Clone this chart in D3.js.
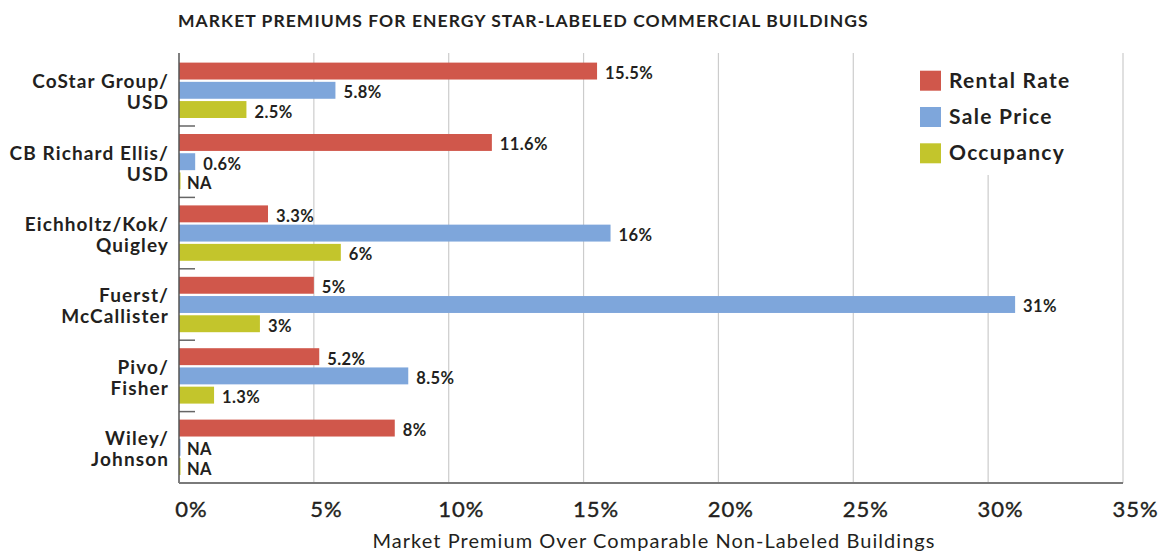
<!DOCTYPE html>
<html><head><meta charset="utf-8">
<script src="https://cdn.jsdelivr.net/npm/d3@7"></script>
<style>
body{margin:0;background:#fff}
svg text{font-family:Lato,"Open Sans",sans-serif;fill:#231f20}
</style>
</head><body>
<svg id="chart" width="1162" height="552"></svg>
<script>
const categories = ["CoStar Group/\nUSD","CB Richard Ellis/\nUSD","Eichholtz/Kok/\nQuigley","Fuerst/\nMcCallister","Pivo/\nFisher","Wiley/\nJohnson"];
const series = ["Rental Rate","Sale Price","Occupancy"];
const rentalRate = [15.5, 11.6, 3.3, 5, 5.2, 8];
const salePrice  = [5.8, 0.6, 16, 31, 8.5, null];
const occupancy  = [2.5, null, 6, 3, 1.3, null];
const xTicks = [0, 5, 10, 15, 20, 25, 30, 35];
const colors = ["#d0574b", "#7ea6db", "#c3c52c"];
const title = "MARKET PREMIUMS FOR ENERGY STAR-LABELED COMMERCIAL BUILDINGS";
const xTitle = "Market Premium Over Comparable Non-Labeled Buildings";

const values = [rentalRate, salePrice, occupancy];
const svg = d3.select("#chart");
const mLeft = 179, mRight = 1123, mTop = 54.6, mBottom = 483;

const x = d3.scaleLinear().domain([0, 35]).range([mLeft, mRight]);
const y0 = d3.scaleBand().domain(categories).range([mTop, mBottom]);
const y1 = d3.scaleBand().domain(series).range([8, y0.bandwidth() - 8]).paddingInner(0.12);
const color = d3.scaleOrdinal().domain(series).range(colors);

// title
svg.append("text").attr("x", 178).attr("y", 26.5)
  .style("font-size", "17.5px").style("font-weight", 700).style("letter-spacing", "1.05px")
  .text(title);

// gridlines
svg.append("g").selectAll("line").data(xTicks.filter(d => d > 0)).join("line")
  .attr("x1", d => x(d)).attr("x2", d => x(d))
  .attr("y1", 53).attr("y2", mBottom)
  .attr("stroke", "#cccccc").attr("stroke-width", 1.2);

// legend backdrop
svg.append("rect").attr("x", 870).attr("y", 50).attr("width", 240).attr("height", 125).attr("fill", "#fff");

// bars
const groups = svg.append("g").selectAll("g").data(categories).join("g")
  .attr("transform", c => `translate(0,${y0(c)})`);

groups.each(function(c, ci) {
  const g = d3.select(this);
  series.forEach((s, si) => {
    const v = values[si][ci];
    g.append("rect")
      .attr("x", x(0))
      .attr("y", y1(s))
      .attr("width", v == null ? 1.5 : x(v) - x(0))
      .attr("height", y1.bandwidth())
      .attr("fill", color(s));
    g.append("text")
      .attr("x", x(v == null ? 0 : v) + 8)
      .attr("y", y1(s) + y1.bandwidth() / 2 + 2)
      .attr("dominant-baseline", "central")
      .style("font-size", "16.5px").style("font-weight", 700).style("letter-spacing", "0.4px")
      .text(v == null ? "NA" : v + "%");
  });
  const lines = c.split("\n");
  const t = g.append("text").attr("text-anchor", "end")
    .style("font-size", "19px").style("font-weight", 700).style("letter-spacing", "1.1px");
  lines.forEach((l, li) => {
    t.append("tspan").attr("x", 169)
      .attr("y", y0.bandwidth() / 2 + (li === 0 ? -9.5 : 11.5))
      .attr("dominant-baseline", "central")
      .text(l);
  });
});

// group separator ticks
svg.append("g").selectAll("line").data(categories.slice(0, -1)).join("line")
  .attr("x1", mLeft).attr("x2", mLeft + 16)
  .attr("y1", c => y0(c) + y0.bandwidth()).attr("y2", c => y0(c) + y0.bandwidth())
  .attr("stroke", "#666").attr("stroke-width", 1.5);

// axes lines
svg.append("line").attr("x1", mLeft).attr("x2", mLeft).attr("y1", 53).attr("y2", mBottom)
  .attr("stroke", "#555").attr("stroke-width", 1.5);
svg.append("line").attr("x1", mLeft).attr("x2", mRight).attr("y1", mBottom).attr("y2", mBottom)
  .attr("stroke", "#7a7a7a").attr("stroke-width", 2);

// x axis labels
const ax = svg.append("g").attr("transform", `translate(0,${mBottom})`)
  .call(d3.axisBottom(x).tickValues(xTicks).tickFormat(d => d + "%").tickSize(0).tickPadding(18));
ax.select(".domain").remove();
ax.selectAll("text").attr("dx", 12)
  .style("font-size", "22px").style("font-weight", 400).style("letter-spacing", "1px")
  .style("font-family", "Lato, sans-serif").attr("fill", "#231f20")
  .attr("stroke", "#231f20").attr("stroke-width", 0.4);

svg.append("text").attr("x", (mLeft + mRight) / 2 + 3).attr("y", 548)
  .attr("text-anchor", "middle").style("font-size", "20px").style("font-weight", 400).style("letter-spacing", "1.05px")
  .text(xTitle);

// legend
const lg = svg.append("g").selectAll("g").data(series).join("g")
  .attr("transform", (s, i) => `translate(920,${70.7 + i * 36.3})`);
lg.append("rect").attr("width", 21).attr("height", 20).attr("fill", s => color(s));
lg.append("text").attr("x", 29).attr("y", 17)
  .style("font-size", "21px").style("font-weight", 700).style("letter-spacing", "1.3px").text(s => s);
</script>
</body></html>
